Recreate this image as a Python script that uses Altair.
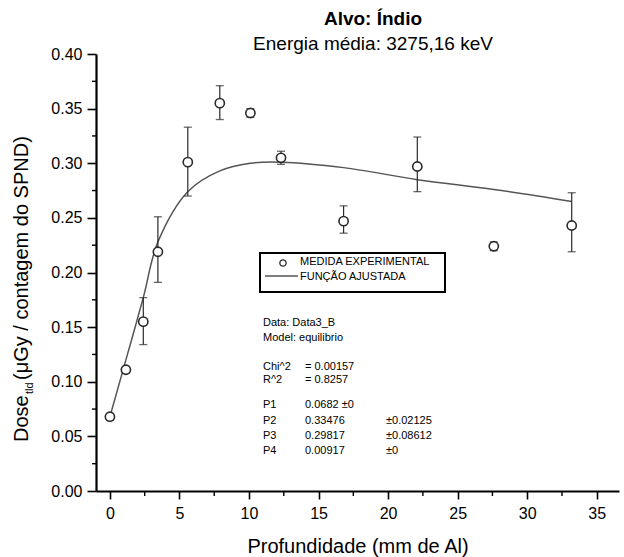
import altair as alt
import pandas as pd

# ---- data ----
depth = [0, 1.15, 2.4, 3.45, 5.6, 7.9, 10.1, 12.3, 16.8, 22.1, 27.6, 33.2]
dose = [0.068, 0.111, 0.155, 0.219, 0.301, 0.355, 0.346, 0.305, 0.247, 0.297, 0.224, 0.243]
err_lo = [0.065, 0.108, 0.134, 0.191, 0.270, 0.340, 0.342, 0.299, 0.236, 0.274, 0.220, 0.219]
err_hi = [0.071, 0.114, 0.177, 0.251, 0.333, 0.371, 0.350, 0.311, 0.261, 0.324, 0.228, 0.273]
fit = [0.068, 0.120, 0.177, 0.228, 0.274, 0.293, 0.300, 0.301, 0.296, 0.285, 0.276, 0.265]

x_ticks = [0, 5, 10, 15, 20, 25, 30, 35]
x_minor = [2.5, 7.5, 12.5, 17.5, 22.5, 27.5, 32.5]
y_ticks = [0.0, 0.05, 0.10, 0.15, 0.20, 0.25, 0.30, 0.35, 0.40]
y_minor = [0.025, 0.075, 0.125, 0.175, 0.225, 0.275, 0.325, 0.375]

title_lines = ["Alvo: Índio", "Energia média: 3275,16 keV"]
x_title = "Profundidade (mm de Al)"
y_title_parts = ["Dose", "tld", "(μGy / contagem do SPND)"]
legend_labels = ["MEDIDA EXPERIMENTAL", "FUNÇÃO AJUSTADA"]
stats_left = ["Data: Data3_B", "Model: equilibrio", "Chi^2", "R^2", "P1", "P2", "P3", "P4"]
stats_mid = ["", "", "= 0.00157", "= 0.8257", "0.0682  ±0", "0.33476", "0.29817", "0.00917"]
stats_right = ["", "", "", "", "", "±0.02125", "±0.08612", "±0"]

FONT = "Liberation Sans"
W, H = 523, 437
INK = "#2a2a2a"

df = pd.DataFrame({"depth": depth, "dose": dose, "lo": err_lo, "hi": err_hi, "fit": fit})

xs = alt.Scale(domain=[-1, 36.6], nice=False, zero=False)
ys = alt.Scale(domain=[0, 0.4], nice=False)

x_enc = alt.X("depth:Q", scale=xs,
              axis=alt.Axis(values=x_ticks, format="d", title=x_title, grid=False,
                            domainColor="black", domainWidth=2.2, tickColor="black",
                            tickWidth=1.6, tickSize=8, labelFontSize=16, labelPadding=6,
                            labelColor="black", titleFontSize=20, titleFontWeight="normal",
                            titleColor="black", titlePadding=15, labelFlush=False))
y_axis = alt.Axis(values=y_ticks, format=".2f", title=None, grid=False,
                  domainColor="black", domainWidth=2.2, tickColor="black",
                  tickWidth=1.6, tickSize=9, labelFontSize=16, labelPadding=5,
                  labelColor="black", labelFlush=False)

base = alt.Chart(df)

fit_line = base.mark_line(color="#555555", strokeWidth=1.5, interpolate="catmull-rom").encode(
    x=x_enc, y=alt.Y("fit:Q", scale=ys, axis=y_axis))
bars = base.mark_rule(color=INK, strokeWidth=1.2).encode(
    x="depth:Q", y=alt.Y("lo:Q", scale=ys), y2="hi:Q")
cap_lo = base.mark_tick(orient="horizontal", size=8, thickness=1.3, color=INK).encode(
    x="depth:Q", y=alt.Y("lo:Q", scale=ys))
cap_hi = base.mark_tick(orient="horizontal", size=8, thickness=1.3, color=INK).encode(
    x="depth:Q", y=alt.Y("hi:Q", scale=ys))
points = base.mark_circle(size=85, fill="white", stroke=INK, strokeWidth=1.6, opacity=1).encode(
    x="depth:Q", y=alt.Y("dose:Q", scale=ys))

minor_x = alt.Chart(pd.DataFrame({"m": x_minor})).mark_rule(color="black", strokeWidth=1.4).encode(
    x=alt.X("m:Q", scale=xs), y=alt.value(H), y2=alt.value(H + 5))
minor_y = alt.Chart(pd.DataFrame({"m": y_minor})).mark_rule(color="black", strokeWidth=1.4).encode(
    y=alt.Y("m:Q", scale=ys), x=alt.value(-4), x2=alt.value(0))

layers = [fit_line, bars, cap_lo, cap_hi, points, minor_x, minor_y]


def txt(s, x, y, size, weight="normal", align="left", angle=0, baseline="middle"):
    kw = dict(font=FONT, fontSize=size, fontWeight=weight, align=align,
              baseline=baseline, color="black")
    if angle:
        kw["angle"] = angle
    return alt.Chart(pd.DataFrame({"t": [s]})).mark_text(**kw).encode(
        text="t:N", x=alt.value(x), y=alt.value(y))


# title
layers.append(txt(title_lines[0], 277, -35, 19, weight="bold", align="center"))
layers.append(txt(title_lines[1], 277, -10, 19, align="center"))

# y title (rotated, with subscript)
layers.append(txt(y_title_parts[0], -74, 388, 20, angle=270))
layers.append(txt(y_title_parts[1], -66, 340, 11, angle=270))
layers.append(txt(y_title_parts[2], -74, 326, 20, angle=270))

# legend box
legend_box = alt.Chart(pd.DataFrame({"a": [0]})).mark_rect(
    fillOpacity=0, stroke="black", strokeWidth=2).encode(
    x=alt.value(164), x2=alt.value(349), y=alt.value(199), y2=alt.value(238))
legend_pt = alt.Chart(pd.DataFrame({"a": [0]})).mark_circle(
    size=40, fill="white", stroke=INK, strokeWidth=1.3, opacity=1).encode(
    x=alt.value(187), y=alt.value(209))
legend_ln = alt.Chart(pd.DataFrame({"a": [0]})).mark_rule(
    color="#555555", strokeWidth=1.3).encode(
    x=alt.value(169), x2=alt.value(202), y=alt.value(222))
layers += [legend_box, legend_pt, legend_ln]
layers.append(txt(legend_labels[0], 204, 208, 11))
layers.append(txt(legend_labels[1], 204, 223, 11))

# fit statistics block
stat_y = [269, 284, 313, 326, 351, 367, 382, 397]
for s, yy in zip(stats_left, stat_y):
    layers.append(txt(s, 167, yy, 11))
for s, yy in zip(stats_mid, stat_y):
    if s:
        layers.append(txt(s, 209, yy, 11))
for s, yy in zip(stats_right, stat_y):
    if s:
        layers.append(txt(s, 290, yy, 11))

chart = alt.layer(*layers).properties(
    width=W, height=H,
    autosize=alt.AutoSizeParams(type="none"),
    padding={"left": 96, "top": 54, "right": 5, "bottom": 66},
).configure(
    font=FONT, background="white",
    view=alt.ViewConfig(stroke="transparent", strokeWidth=0),
)

chart.save("out.html", embed_options={"renderer": "svg", "actions": False})
